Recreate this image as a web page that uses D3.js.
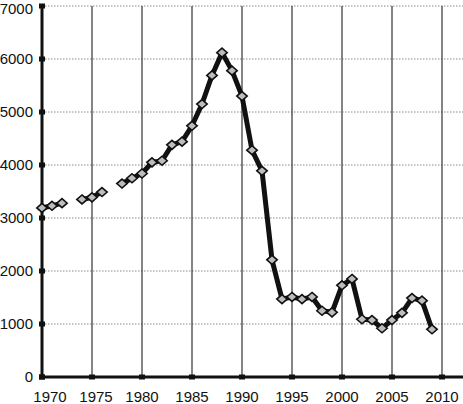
<!DOCTYPE html>
<html><head><meta charset="utf-8">
<script src="https://cdn.jsdelivr.net/npm/d3@7"></script>
<style>body{margin:0;background:#fff}svg{display:block}</style>
</head><body>
<svg id="c" width="463" height="404"></svg>
<script>
const years = [1970,1971,1972,1973,1974,1975,1976,1977,1978,1979,1980,1981,1982,1983,1984,1985,1986,1987,1988,1989,1990,1991,1992,1993,1994,1995,1996,1997,1998,1999,2000,2001,2002,2003,2004,2005,2006,2007,2008,2009];
const values = [3190,3230,3280,null,3350,3390,3490,null,3650,3750,3840,4050,4080,4380,4440,4740,5150,5690,6120,5780,5300,4280,3890,2210,1470,1510,1470,1510,1250,1220,1730,1850,1090,1075,920,1075,1210,1490,1440,900];
const yTicks = [0,1000,2000,3000,4000,5000,6000,7000];
const xTicks = [1970,1975,1980,1985,1990,1995,2000,2005,2010];

const svg = d3.select("#c");
const x = d3.scaleLinear().domain([1970,2012]).range([42,462]);
const y = d3.scaleLinear().domain([0,7000]).range([377,6]);
const data = years.map((yr,i)=>({yr, v: values[i]}));
const font = "'Liberation Sans', Arial, sans-serif";

// horizontal dotted gridlines
svg.append("g").selectAll("line").data(yTicks.filter(d=>d>0)).join("line")
  .attr("x1", x(1970)).attr("x2", 463)
  .attr("y1", d=>y(d)).attr("y2", d=>y(d))
  .attr("stroke", "#888").attr("stroke-width", 1).attr("stroke-dasharray", "1.5,1.5");
// vertical solid gridlines
svg.append("g").selectAll("line").data(xTicks.filter(d=>d>1970)).join("line")
  .attr("x1", d=>x(d)).attr("x2", d=>x(d))
  .attr("y1", y(7000)).attr("y2", y(0))
  .attr("stroke", "#333").attr("stroke-width", 1.2);

// axes lines
svg.append("line").attr("x1", x(1970)).attr("x2", x(1970)).attr("y1", y(7000)).attr("y2", y(0))
  .attr("stroke", "#111").attr("stroke-width", 3);
svg.append("line").attr("x1", x(1970)-1).attr("x2", 463).attr("y1", y(0)).attr("y2", y(0))
  .attr("stroke", "#111").attr("stroke-width", 3);
// tick dots
svg.append("g").selectAll("rect").data(yTicks).join("rect")
  .attr("x", x(1970)-3).attr("y", d=>y(d)-2.5).attr("width", 6).attr("height", 5).attr("fill", "#111");
svg.append("g").selectAll("rect").data(xTicks).join("rect")
  .attr("x", d=>x(d)-3).attr("y", y(0)-2.5).attr("width", 6).attr("height", 5).attr("fill", "#111");

// tick labels
svg.append("g").selectAll("text").data(yTicks).join("text")
  .attr("x", 33).attr("y", d=>Math.max(y(d), 9)).attr("dy", "0.36em")
  .attr("text-anchor", "end").attr("font-family", font).attr("font-size", 15).attr("fill", "#111")
  .text(d=>d);
svg.append("g").selectAll("text").data(xTicks).join("text")
  .attr("x", (d,i)=>x(d) + (i===0?8:(i===1?4:0))).attr("y", 402)
  .attr("text-anchor", "middle").attr("font-family", font).attr("font-size", 15).attr("fill", "#111")
  .text(d=>d);

// line
const line = d3.line().defined(d=>d.v!==null).x(d=>x(d.yr)).y(d=>y(d.v));
svg.append("path").datum(data).attr("d", line)
  .attr("fill", "none").attr("stroke", "#111").attr("stroke-width", 5).attr("stroke-linejoin", "round");

// diamond markers
svg.append("g").selectAll("path").data(data.filter(d=>d.v!==null)).join("path")
  .attr("transform", d=>`translate(${x(d.yr)},${y(d.v)})`)
  .attr("d", "M0,-4.5L5.2,0L0,4.5L-5.2,0Z")
  .attr("fill", "#bdbdbd").attr("stroke", "#111").attr("stroke-width", 1.6);
</script>
</body></html>
